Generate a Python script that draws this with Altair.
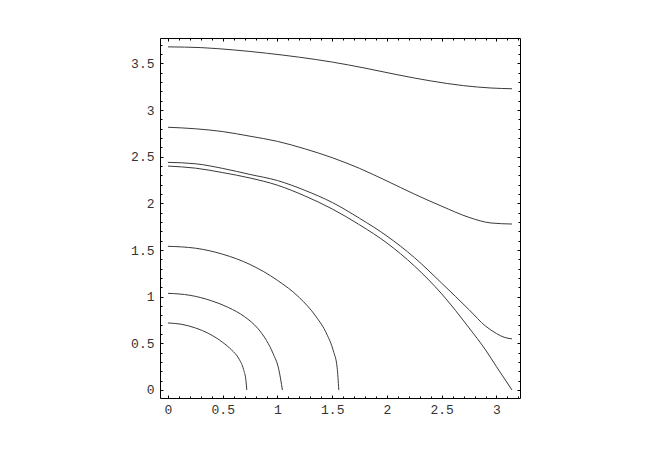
import altair as alt
import pandas as pd

# ---- data (x, y for each contour) ----
c1_x = [0.0, 0.3, 0.6, 0.9, 1.2, 1.5, 1.8, 2.1, 2.4, 2.7, 2.95, 3.1416]
c1_y = [3.678, 3.67, 3.645, 3.61, 3.567, 3.515, 3.45, 3.378, 3.313, 3.262, 3.237, 3.229]

c2_x = [0.0, 0.25, 0.5, 0.75, 1.0, 1.25, 1.5, 1.75, 2.0, 2.25, 2.5, 2.75, 2.95, 3.1416]
c2_y = [2.816, 2.80, 2.77, 2.72, 2.665, 2.585, 2.49, 2.375, 2.24, 2.10, 1.97, 1.85, 1.79, 1.779]

c7_x = [0.0, 0.25, 0.5, 0.75, 1.0, 1.25, 1.5, 1.75, 2.0, 2.25, 2.5, 2.75, 2.9, 3.0, 3.07, 3.1416]
c7_y = [2.44, 2.425, 2.375, 2.31, 2.245, 2.14, 2.01, 1.84, 1.65, 1.42, 1.145, 0.86, 0.685, 0.605, 0.565, 0.548]

c6_x = [0.0, 0.25, 0.5, 0.75, 1.0, 1.25, 1.5, 1.75, 2.0, 2.25, 2.5, 2.75, 2.9, 3.0, 3.1416]
c6_y = [2.40, 2.378, 2.33, 2.272, 2.195, 2.08, 1.94, 1.77, 1.575, 1.33, 1.03, 0.665, 0.43, 0.25, 0.0]

c5_x = [0.0, 0.25, 0.5, 0.75, 1.0, 1.2, 1.35, 1.45, 1.51, 1.545, 1.56]
c5_y = [1.54, 1.52, 1.455, 1.345, 1.175, 0.99, 0.79, 0.60, 0.42, 0.24, 0.0]

c4_x = [0.0, 0.2, 0.4, 0.55, 0.7, 0.82, 0.9, 0.96, 1.012, 1.045]
c4_y = [1.036, 1.015, 0.955, 0.885, 0.785, 0.66, 0.53, 0.39, 0.22, 0.0]

c3_x = [0.0, 0.12, 0.25, 0.38, 0.5, 0.58, 0.65, 0.69, 0.712, 0.72]
c3_y = [0.718, 0.705, 0.665, 0.60, 0.51, 0.43, 0.33, 0.22, 0.10, 0.0]

x_major = [0, 0.5, 1, 1.5, 2, 2.5, 3]
y_major = [0, 0.5, 1, 1.5, 2, 2.5, 3, 3.5]
x_minor = [round(0.1 * k, 1) for k in range(0, 33) if k % 5 != 0]
y_minor = [round(0.1 * k, 1) for k in range(0, 38) if k % 5 != 0]

curves = [("c1", c1_x, c1_y), ("c2", c2_x, c2_y), ("c7", c7_x, c7_y),
          ("c6", c6_x, c6_y), ("c5", c5_x, c5_y), ("c4", c4_x, c4_y),
          ("c3", c3_x, c3_y)]
rows = []
for name, xs_, ys_ in curves:
    for i, (xv, yv) in enumerate(zip(xs_, ys_)):
        rows.append({"curve": name, "i": i, "x": xv, "y": yv})
df = pd.DataFrame(rows)

xscale = alt.Scale(domain=[-0.073, 3.215], nice=False, zero=False)
yscale = alt.Scale(domain=[-0.086, 3.773], nice=False, zero=False)

LABEL = dict(labelFont="Liberation Mono", labelFontSize=13, labelColor="#333",
             labelFlush=False, labelOverlap=False)


def axis(orient, values, size, labels):
    kw = dict(orient=orient, values=values, offset=-size, tickSize=size,
              domain=False, grid=False, tickColor="#000", tickWidth=1)
    if labels:
        kw.update(LABEL)
        kw.update(format="~g", labelPadding=5 if orient == "bottom" else 6)
    else:
        kw.update(labels=False)
    return alt.Axis(**kw)


def layer(xaxis, yaxis, visible):
    return alt.Chart(df).mark_line(
        stroke="#3a3a3a", strokeWidth=1, opacity=1 if visible else 0,
        interpolate="monotone",
    ).encode(
        x=alt.X("x:Q", scale=xscale, axis=xaxis, title=None),
        y=alt.Y("y:Q", scale=yscale, axis=yaxis, title=None),
        detail="curve:N",
        order="i:Q",
    )


l1 = layer(axis("bottom", x_major, 3, True), axis("left", y_major, 3, True), True)
l2 = layer(axis("bottom", x_minor, 2, False), axis("left", y_minor, 2, False), False)
l3 = layer(axis("top", x_major, 3, False), axis("right", y_major, 3, False), False)
l4 = layer(axis("top", x_minor, 2, False), axis("right", y_minor, 2, False), False)

chart = alt.layer(l1, l2, l3, l4).resolve_axis(
    x="independent", y="independent"
).properties(
    width=360,
    height=360,
    autosize=alt.AutoSizeParams(type="none"),
    padding={"left": 152, "top": 30, "right": 110, "bottom": 36},
    background="white",
).configure_view(stroke="#000", strokeWidth=1)

chart.save("out.html", embed_options={"renderer": "svg", "actions": False})
